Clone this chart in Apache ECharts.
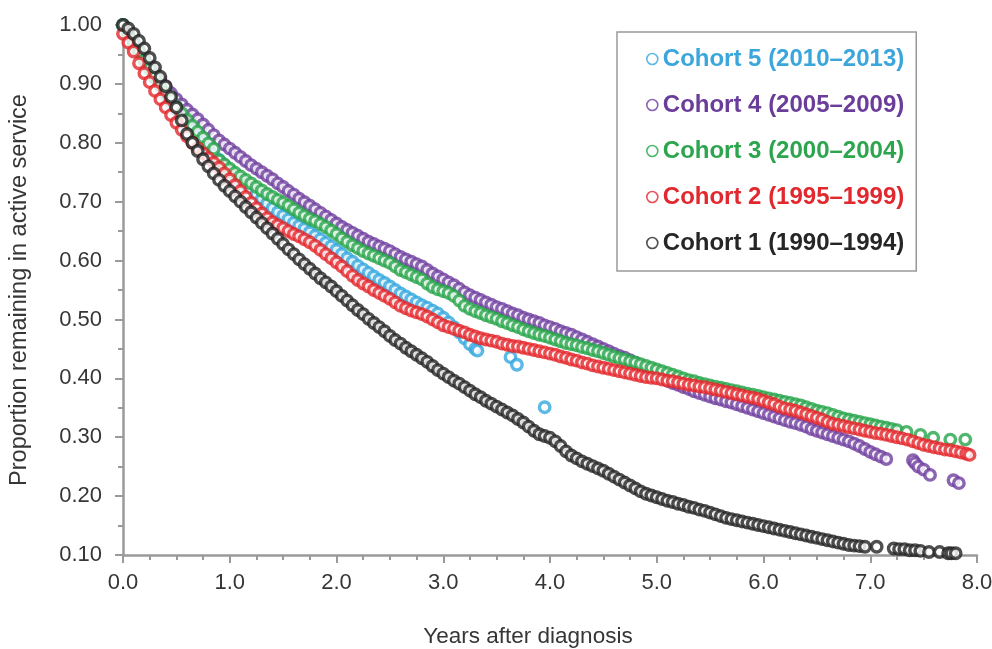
<!DOCTYPE html>
<html>
<head>
<meta charset="utf-8">
<script src="https://cdn.jsdelivr.net/npm/echarts@6/dist/echarts.min.js"></script>
<style>
html,body{margin:0;padding:0;background:#fff;}
#chart{width:992px;height:649px;}
</style>
</head>
<body>
<div id="chart"></div>
<script>
// Cohort names (legend order, top to bottom)
const cohortNames = ['Cohort 5 (2010\u20132013)','Cohort 4 (2005\u20132009)','Cohort 3 (2000\u20132004)','Cohort 2 (1995\u20131999)','Cohort 1 (1990\u20131994)'];

// [years after diagnosis, proportion remaining]
const cohort5 = [[0,1.000],[0.05,0.985],[0.10,0.970],[0.15,0.955],[0.20,0.940],[0.25,0.925],[0.30,0.910],[0.35,0.896],[0.40,0.882],[0.45,0.869],[0.50,0.856],[0.55,0.844],[0.60,0.832],[0.65,0.821],[0.70,0.810],[0.75,0.800],[0.80,0.790],[0.85,0.780],[0.90,0.771],[0.95,0.762],[1.00,0.753],[1.05,0.745],[1.10,0.737],[1.15,0.729],[1.20,0.721],[1.25,0.713],[1.30,0.705],[1.35,0.697],[1.40,0.689],[1.45,0.682],[1.50,0.676],[1.55,0.670],[1.60,0.664],[1.65,0.659],[1.70,0.654],[1.75,0.648],[1.80,0.642],[1.85,0.636],[1.90,0.630],[1.95,0.624],[2.00,0.618],[2.05,0.611],[2.10,0.604],[2.15,0.598],[2.20,0.591],[2.25,0.585],[2.30,0.579],[2.35,0.573],[2.40,0.567],[2.45,0.562],[2.50,0.556],[2.55,0.550],[2.60,0.544],[2.65,0.539],[2.70,0.534],[2.75,0.529],[2.80,0.524],[2.85,0.520],[2.90,0.515],[2.95,0.510],[3.00,0.503],[3.05,0.495],[3.10,0.487],[3.15,0.478],[3.20,0.468],[3.25,0.458],[3.30,0.450],[3.32,0.447],[3.63,0.436],[3.69,0.423],[3.95,0.351]];

const cohort4 = [[0,1.000],[0.05,0.985],[0.10,0.971],[0.15,0.957],[0.20,0.944],[0.25,0.931],[0.30,0.918],[0.35,0.906],[0.40,0.895],[0.45,0.884],[0.50,0.874],[0.55,0.865],[0.60,0.856],[0.65,0.848],[0.70,0.840],[0.75,0.831],[0.80,0.822],[0.85,0.813],[0.90,0.804],[0.95,0.797],[1.00,0.790],[1.05,0.783],[1.10,0.776],[1.15,0.769],[1.20,0.762],[1.25,0.756],[1.30,0.750],[1.35,0.744],[1.40,0.738],[1.45,0.731],[1.50,0.725],[1.55,0.718],[1.60,0.712],[1.65,0.705],[1.70,0.699],[1.75,0.693],[1.80,0.687],[1.85,0.681],[1.90,0.675],[1.95,0.669],[2.00,0.663],[2.05,0.657],[2.10,0.652],[2.15,0.647],[2.20,0.642],[2.25,0.637],[2.30,0.632],[2.35,0.628],[2.40,0.624],[2.45,0.620],[2.50,0.616],[2.55,0.611],[2.60,0.606],[2.65,0.602],[2.70,0.598],[2.75,0.594],[2.80,0.590],[2.85,0.584],[2.90,0.578],[2.95,0.573],[3.00,0.568],[3.05,0.563],[3.10,0.558],[3.15,0.552],[3.20,0.546],[3.25,0.541],[3.30,0.537],[3.35,0.533],[3.40,0.529],[3.45,0.525],[3.50,0.521],[3.55,0.518],[3.60,0.514],[3.65,0.510],[3.70,0.507],[3.75,0.503],[3.80,0.500],[3.85,0.497],[3.90,0.494],[3.95,0.490],[4.00,0.487],[4.05,0.484],[4.10,0.480],[4.15,0.477],[4.20,0.474],[4.25,0.470],[4.30,0.466],[4.35,0.462],[4.40,0.458],[4.45,0.454],[4.50,0.450],[4.55,0.446],[4.60,0.442],[4.65,0.438],[4.70,0.435],[4.75,0.431],[4.80,0.426],[4.85,0.421],[4.90,0.416],[4.95,0.411],[5.00,0.406],[5.05,0.401],[5.10,0.396],[5.15,0.392],[5.20,0.389],[5.25,0.385],[5.30,0.382],[5.35,0.378],[5.40,0.375],[5.45,0.372],[5.50,0.369],[5.55,0.366],[5.60,0.364],[5.65,0.361],[5.70,0.359],[5.75,0.356],[5.80,0.353],[5.85,0.350],[5.90,0.347],[5.95,0.344],[6.00,0.341],[6.05,0.338],[6.10,0.335],[6.15,0.332],[6.20,0.329],[6.25,0.326],[6.30,0.324],[6.35,0.321],[6.40,0.318],[6.45,0.314],[6.50,0.311],[6.55,0.308],[6.60,0.305],[6.65,0.302],[6.70,0.299],[6.75,0.296],[6.80,0.293],[6.85,0.289],[6.90,0.285],[6.95,0.280],[7.00,0.275],[7.05,0.271],[7.10,0.267],[7.15,0.263],[7.40,0.261],[7.42,0.256],[7.45,0.250],[7.50,0.245],[7.56,0.236],[7.78,0.227],[7.83,0.222]];

const cohort3 = [[0,1.000],[0.05,0.985],[0.10,0.970],[0.15,0.955],[0.20,0.940],[0.25,0.926],[0.30,0.912],[0.35,0.898],[0.40,0.885],[0.45,0.873],[0.50,0.861],[0.55,0.850],[0.60,0.839],[0.65,0.829],[0.70,0.819],[0.75,0.809],[0.80,0.799],[0.85,0.790],[0.90,0.770],[0.95,0.763],[1.00,0.756],[1.05,0.749],[1.10,0.743],[1.15,0.737],[1.20,0.731],[1.25,0.725],[1.30,0.719],[1.35,0.713],[1.40,0.708],[1.45,0.703],[1.50,0.698],[1.55,0.693],[1.60,0.687],[1.65,0.681],[1.70,0.676],[1.75,0.671],[1.80,0.667],[1.85,0.662],[1.90,0.657],[1.95,0.651],[2.00,0.645],[2.05,0.638],[2.10,0.632],[2.15,0.626],[2.20,0.621],[2.25,0.616],[2.30,0.612],[2.35,0.608],[2.40,0.604],[2.45,0.600],[2.50,0.596],[2.55,0.590],[2.60,0.584],[2.65,0.580],[2.70,0.576],[2.75,0.572],[2.80,0.568],[2.85,0.561],[2.90,0.555],[2.95,0.551],[3.00,0.548],[3.05,0.545],[3.10,0.540],[3.15,0.532],[3.20,0.523],[3.25,0.518],[3.30,0.514],[3.35,0.511],[3.40,0.507],[3.45,0.504],[3.50,0.501],[3.55,0.497],[3.60,0.494],[3.65,0.490],[3.70,0.487],[3.75,0.483],[3.80,0.480],[3.85,0.477],[3.90,0.474],[3.95,0.472],[4.00,0.469],[4.05,0.466],[4.10,0.463],[4.15,0.460],[4.20,0.458],[4.25,0.456],[4.30,0.453],[4.35,0.451],[4.40,0.448],[4.45,0.446],[4.50,0.443],[4.55,0.440],[4.60,0.437],[4.65,0.434],[4.70,0.432],[4.75,0.429],[4.80,0.427],[4.85,0.424],[4.90,0.421],[4.95,0.418],[5.00,0.415],[5.05,0.412],[5.10,0.409],[5.15,0.406],[5.20,0.403],[5.25,0.400],[5.30,0.397],[5.35,0.395],[5.40,0.392],[5.45,0.390],[5.50,0.388],[5.55,0.386],[5.60,0.384],[5.65,0.382],[5.70,0.380],[5.75,0.378],[5.80,0.376],[5.85,0.374],[5.90,0.372],[5.95,0.370],[6.00,0.368],[6.05,0.366],[6.10,0.364],[6.15,0.362],[6.20,0.360],[6.25,0.358],[6.30,0.356],[6.35,0.354],[6.40,0.351],[6.45,0.348],[6.50,0.345],[6.55,0.343],[6.60,0.341],[6.65,0.338],[6.70,0.335],[6.75,0.332],[6.80,0.330],[6.85,0.328],[6.90,0.326],[6.95,0.324],[7.00,0.322],[7.05,0.320],[7.10,0.318],[7.15,0.316],[7.20,0.314],[7.25,0.312],[7.34,0.309],[7.47,0.304],[7.59,0.299],[7.75,0.296],[7.89,0.296]];

const cohort2 = [[0,0.985],[0.05,0.970],[0.10,0.955],[0.15,0.935],[0.20,0.918],[0.25,0.903],[0.30,0.888],[0.35,0.874],[0.40,0.860],[0.45,0.847],[0.50,0.834],[0.55,0.822],[0.60,0.811],[0.65,0.800],[0.70,0.791],[0.75,0.782],[0.80,0.774],[0.85,0.766],[0.90,0.758],[0.95,0.748],[1.00,0.738],[1.05,0.728],[1.10,0.718],[1.15,0.708],[1.20,0.698],[1.25,0.689],[1.30,0.680],[1.35,0.672],[1.40,0.665],[1.45,0.660],[1.50,0.655],[1.55,0.650],[1.60,0.645],[1.65,0.641],[1.70,0.636],[1.75,0.631],[1.80,0.625],[1.85,0.618],[1.90,0.611],[1.95,0.604],[2.00,0.597],[2.05,0.590],[2.10,0.582],[2.15,0.574],[2.20,0.567],[2.25,0.561],[2.30,0.556],[2.35,0.550],[2.40,0.545],[2.45,0.540],[2.50,0.535],[2.55,0.529],[2.60,0.523],[2.65,0.519],[2.70,0.515],[2.75,0.512],[2.80,0.509],[2.85,0.505],[2.90,0.500],[2.95,0.495],[3.00,0.490],[3.05,0.487],[3.10,0.484],[3.15,0.481],[3.20,0.478],[3.25,0.474],[3.30,0.471],[3.35,0.468],[3.40,0.466],[3.45,0.464],[3.50,0.462],[3.55,0.459],[3.60,0.457],[3.65,0.455],[3.70,0.454],[3.75,0.452],[3.80,0.450],[3.85,0.448],[3.90,0.446],[3.95,0.444],[4.00,0.442],[4.05,0.440],[4.10,0.437],[4.15,0.435],[4.20,0.432],[4.25,0.430],[4.30,0.427],[4.35,0.425],[4.40,0.422],[4.45,0.420],[4.50,0.418],[4.55,0.416],[4.60,0.414],[4.65,0.412],[4.70,0.410],[4.75,0.408],[4.80,0.406],[4.85,0.404],[4.90,0.402],[4.95,0.401],[5.00,0.400],[5.05,0.398],[5.10,0.396],[5.15,0.395],[5.20,0.393],[5.25,0.391],[5.30,0.389],[5.35,0.388],[5.40,0.386],[5.45,0.385],[5.50,0.383],[5.55,0.381],[5.60,0.379],[5.65,0.377],[5.70,0.375],[5.75,0.373],[5.80,0.371],[5.85,0.369],[5.90,0.367],[5.95,0.365],[6.00,0.362],[6.05,0.359],[6.10,0.356],[6.15,0.352],[6.20,0.349],[6.25,0.347],[6.30,0.345],[6.35,0.342],[6.40,0.339],[6.45,0.336],[6.50,0.333],[6.55,0.330],[6.60,0.326],[6.65,0.323],[6.70,0.321],[6.75,0.319],[6.80,0.317],[6.85,0.315],[6.90,0.313],[6.95,0.311],[7.00,0.309],[7.05,0.307],[7.10,0.306],[7.15,0.304],[7.20,0.302],[7.25,0.300],[7.30,0.298],[7.35,0.296],[7.40,0.293],[7.45,0.290],[7.50,0.287],[7.55,0.285],[7.60,0.283],[7.65,0.281],[7.70,0.279],[7.75,0.278],[7.80,0.276],[7.85,0.274],[7.90,0.272],[7.93,0.270]];

const cohort1 = [[0,1.000],[0.05,0.994],[0.10,0.985],[0.15,0.973],[0.20,0.960],[0.25,0.944],[0.30,0.928],[0.35,0.912],[0.40,0.896],[0.45,0.878],[0.50,0.860],[0.55,0.838],[0.60,0.815],[0.65,0.800],[0.70,0.786],[0.75,0.772],[0.80,0.760],[0.85,0.748],[0.90,0.737],[0.95,0.727],[1.00,0.718],[1.05,0.709],[1.10,0.700],[1.15,0.691],[1.20,0.682],[1.25,0.673],[1.30,0.664],[1.35,0.655],[1.40,0.646],[1.45,0.637],[1.50,0.628],[1.55,0.619],[1.60,0.611],[1.65,0.602],[1.70,0.594],[1.75,0.586],[1.80,0.578],[1.85,0.570],[1.90,0.563],[1.95,0.556],[2.00,0.548],[2.05,0.540],[2.10,0.532],[2.15,0.524],[2.20,0.516],[2.25,0.509],[2.30,0.501],[2.35,0.494],[2.40,0.487],[2.45,0.480],[2.50,0.472],[2.55,0.465],[2.60,0.459],[2.65,0.452],[2.70,0.446],[2.75,0.440],[2.80,0.434],[2.85,0.428],[2.90,0.421],[2.95,0.414],[3.00,0.408],[3.05,0.402],[3.10,0.396],[3.15,0.391],[3.20,0.385],[3.25,0.379],[3.30,0.373],[3.35,0.368],[3.40,0.362],[3.45,0.357],[3.50,0.352],[3.55,0.347],[3.60,0.342],[3.65,0.337],[3.70,0.331],[3.75,0.325],[3.80,0.318],[3.85,0.311],[3.90,0.305],[3.95,0.302],[4.00,0.299],[4.05,0.293],[4.10,0.285],[4.15,0.276],[4.20,0.269],[4.25,0.264],[4.30,0.259],[4.35,0.255],[4.40,0.251],[4.45,0.247],[4.50,0.243],[4.55,0.238],[4.60,0.233],[4.65,0.228],[4.70,0.223],[4.75,0.218],[4.80,0.213],[4.85,0.208],[4.90,0.204],[4.95,0.201],[5.00,0.198],[5.05,0.195],[5.10,0.192],[5.15,0.190],[5.20,0.187],[5.25,0.185],[5.30,0.182],[5.35,0.180],[5.40,0.177],[5.45,0.175],[5.50,0.172],[5.55,0.169],[5.60,0.166],[5.65,0.163],[5.70,0.161],[5.75,0.159],[5.80,0.157],[5.85,0.155],[5.90,0.153],[5.95,0.151],[6.00,0.149],[6.05,0.147],[6.10,0.145],[6.15,0.143],[6.20,0.141],[6.25,0.139],[6.30,0.137],[6.35,0.135],[6.40,0.133],[6.45,0.131],[6.50,0.129],[6.55,0.127],[6.60,0.125],[6.65,0.123],[6.70,0.121],[6.75,0.119],[6.80,0.117],[6.85,0.116],[6.90,0.115],[6.95,0.114],[7.06,0.114],[7.22,0.111],[7.27,0.110],[7.32,0.110],[7.37,0.108],[7.42,0.108],[7.47,0.107],[7.55,0.105],[7.65,0.105],[7.73,0.103],[7.76,0.103],[7.80,0.103]];

const seriesData = [cohort5, cohort4, cohort3, cohort2, cohort1];
const seriesColors = ['#33A7DE', '#6F3E9F', '#27A54A', '#E3252B', '#232323'];
const legendTextColors = ['#3AA6DC', '#6A3D9A', '#2DA44E', '#E0282E', '#262626'];

const chart = echarts.init(document.getElementById('chart'), null, {renderer: 'canvas'});
const axisColor = '#9a9a9a';
const labelColor = '#363636';
const fontFamily = 'Liberation Sans, Arial, sans-serif';

const option = {
  animation: false,
  backgroundColor: '#fff',
  grid: {left: 123, right: 15, top: 25, bottom: 94, containLabel: false, outerBoundsMode: 'none'},
  legend: {
    orient: 'vertical',
    left: 617,
    top: 32,
    padding: [15, 12, 16, 29],
    itemGap: 22,
    itemWidth: 11,
    itemHeight: 11,
    backgroundColor: '#fff',
    borderColor: '#999',
    borderWidth: 1.5,
    borderRadius: 0,
    data: cohortNames.map((n, i) => ({
      name: n,
      icon: 'circle',
      itemStyle: {color: '#fff', borderColor: seriesColors[i], borderWidth: 1.6},
      textStyle: {color: legendTextColors[i], fontWeight: 'bold', fontSize: 24, lineHeight: 24, fontFamily: fontFamily}
    }))
  },
  xAxis: {
    type: 'value',
    min: 0, max: 8, interval: 1,
    name: 'Years after diagnosis',
    nameLocation: 'middle',
    nameGap: 70,
    nameTextStyle: {fontSize: 22.5, color: labelColor, fontFamily: fontFamily, padding: [0, 44, 0, 0]},
    axisLine: {show: true, lineStyle: {color: axisColor, width: 2.5}},
    axisTick: {show: true, inside: false, length: 8, lineStyle: {color: axisColor, width: 2}},
    minorTick: {show: true, splitNumber: 4, length: 5, lineStyle: {color: axisColor, width: 2}},
    splitLine: {show: false},
    axisLabel: {fontSize: 22, color: labelColor, fontFamily: fontFamily, margin: 17, formatter: v => v.toFixed(1)}
  },
  yAxis: {
    type: 'value',
    min: 0.1, max: 1.0, interval: 0.1,
    name: 'Proportion remaining in active service',
    nameLocation: 'middle',
    nameGap: 91,
    nameTextStyle: {fontSize: 23.5, color: labelColor, fontFamily: fontFamily},
    axisLine: {show: true, lineStyle: {color: axisColor, width: 2.5}},
    axisTick: {show: true, inside: false, length: 8, lineStyle: {color: axisColor, width: 2}},
    minorTick: {show: true, splitNumber: 2, length: 5, lineStyle: {color: axisColor, width: 2}},
    splitLine: {show: false},
    axisLabel: {fontSize: 22, color: labelColor, fontFamily: fontFamily, margin: 21, formatter: v => v.toFixed(2)}
  },
  series: seriesData.map((d, i) => ({
    name: cohortNames[i],
    type: 'scatter',
    data: d,
    symbol: 'circle',
    symbolSize: 10.5,
    clip: false,
    itemStyle: {color: '#fff', borderColor: seriesColors[i], borderWidth: 3.4}
  }))
};
chart.setOption(option);
</script>
</body>
</html>
